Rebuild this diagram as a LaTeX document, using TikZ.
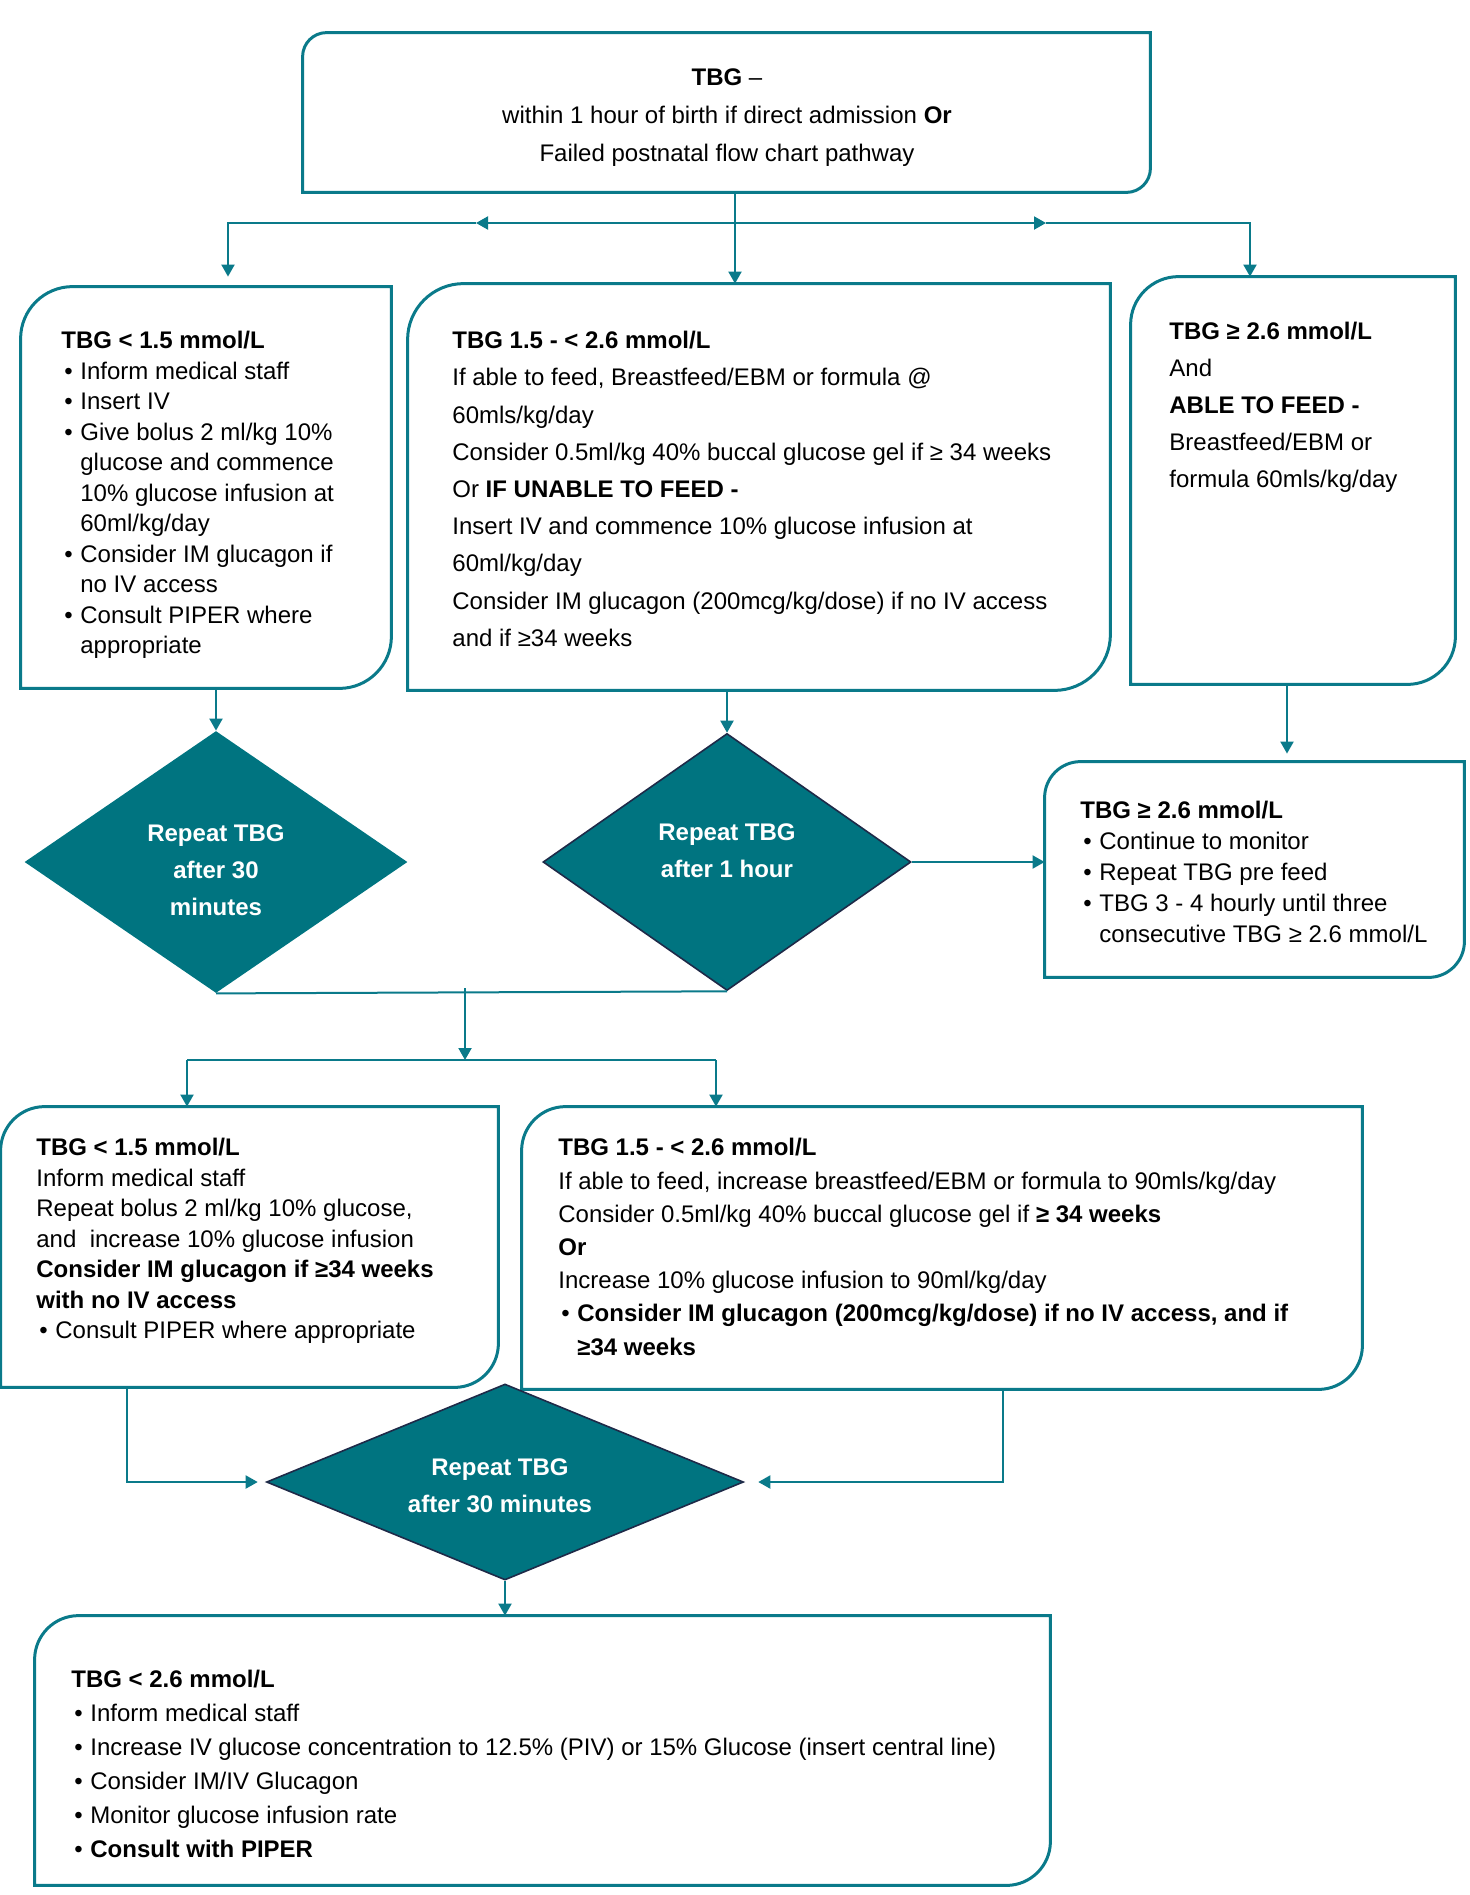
\documentclass[tikz,border=0pt]{standalone}
\usepackage{fontspec}
\setmainfont{Liberation Sans}
\usepackage{tikz}
\usetikzlibrary{shapes.geometric,arrows.meta,fit}
\definecolor{tealline}{RGB}{10,122,138}
\definecolor{tealfill}{RGB}{0,116,128}
\definecolor{navyline}{RGB}{30,42,72}
\newcommand\bitem{\makebox[9.5pt][l]{\hspace{1.5pt}\textbullet}}
\newcommand\bgap{\hspace*{9.5pt}}
\newcommand\roundbox[2]{%
  \draw[boxline] (#1.south west) -- ([yshift=-#2]#1.north west)
    arc[start angle=180, end angle=90, radius=#2] -- (#1.north east)
    -- ([yshift=#2]#1.south east)
    arc[start angle=0, end angle=-90, radius=#2] -- cycle;}

\begin{document}
\begin{tikzpicture}[x=0.5pt, y=-0.5pt,
        area/.style = {inner sep=0pt, draw=none},
        boxline/.style = {draw=tealline, line width=1.5pt},
        line/.style = {draw=tealline, line width=1pt},
        arr/.style = {line, -{Triangle[width=6.5pt,length=6pt]}},
        txt/.style = {anchor=north west, inner sep=0pt, align=left, font=\fontsize{12}{#1}\selectfont},
        decide/.style = {diamond, fill=tealfill, inner sep=0pt},
        dtxt/.style = {inner sep=0pt, text=white, align=center, font=\bfseries\fontsize{12}{18.5}\selectfont}
    ]
        \useasboundingbox (0,0) rectangle (1470,1895);

        \node[area, fit={(303,33) (1150,192)}] (top) {};
        \node[area, fit={(21,287) (391,688)}] (L1) {};
        \node[area, fit={(408,284) (1110,690)}] (M1) {};
        \node[area, fit={(1131,277) (1455,684)}] (R1) {};
        \node[area, fit={(1045,762) (1464,977)}] (R2) {};
        \node[area, fit={(1,1107) (498,1387)}] (L2) {};
        \node[area, fit={(522,1107) (1362,1389)}] (M2) {};
        \node[area, fit={(35,1616) (1050,1885)}] (B) {};
        \roundbox{top}{12pt}
        \roundbox{L1}{26pt}
        \roundbox{M1}{28pt}
        \roundbox{R1}{24pt}
        \roundbox{R2}{18pt}
        \roundbox{L2}{22pt}
        \roundbox{M2}{22pt}
        \roundbox{B}{22pt}

        \node[decide, minimum width=191.5pt, minimum height=131pt] (D1) at (216,862) {};
        \node[decide, draw=navyline, line width=0.8pt, minimum width=184pt, minimum height=128.5pt] (D2) at (727,862) {};
        \node[decide, draw=navyline, line width=0.8pt, minimum width=238.5pt, minimum height=98pt] (D3) at (505,1482) {};
        \node[dtxt] (D1txt) at (216,870) {Repeat TBG\\after 30\\minutes};
        \node[dtxt] (D2txt) at (727,851) {Repeat TBG\\after 1 hour};
        \node[dtxt] (D3txt) at (500,1486) {Repeat TBG\\after 30 minutes};

        \node[txt=19pt, anchor=north, align=center] (toptxt) at (727,68)
            {\textbf{TBG} –\\within 1 hour of birth if direct admission \textbf{Or}\\Failed postnatal flow chart pathway};
        \node[txt=15.25pt] (L1txt) at (61,331)
            {\textbf{TBG < 1.5 mmol/L}\\
             \bitem Inform medical staff\\
             \bitem Insert IV\\
             \bitem Give bolus 2 ml/kg 10\%\\
             \bgap glucose and commence\\
             \bgap 10\% glucose infusion at\\
             \bgap 60ml/kg/day\\
             \bitem Consider IM glucagon if\\
             \bgap no IV access\\
             \bitem Consult PIPER where\\
             \bgap appropriate};
        \node[txt=18.6pt] (M1txt) at (452,331)
            {\textbf{TBG 1.5 - < 2.6 mmol/L}\\
             If able to feed, Breastfeed/EBM or formula @\\
             60mls/kg/day\\
             Consider 0.5ml/kg 40\% buccal glucose gel if ≥ 34 weeks\\
             Or \textbf{IF UNABLE TO FEED -}\\
             Insert IV and commence 10\% glucose infusion at\\
             60ml/kg/day\\
             Consider IM glucagon (200mcg/kg/dose) if no IV access\\
             and if ≥34 weeks};
        \node[txt=18.5pt] (R1txt) at (1169,322)
            {\textbf{TBG ≥ 2.6 mmol/L}\\
             And\\
             \textbf{ABLE TO FEED -}\\
             Breastfeed/EBM or\\
             formula 60mls/kg/day};
        \node[txt=15.5pt] (R2txt) at (1080,801)
            {\textbf{TBG ≥ 2.6 mmol/L}\\
             \bitem Continue to monitor\\
             \bitem Repeat TBG pre feed\\
             \bitem TBG 3 - 4 hourly until three\\
             \bgap consecutive TBG ≥ 2.6 mmol/L};
        \node[txt=15.25pt] (L2txt) at (36,1138)
            {\textbf{TBG < 1.5 mmol/L}\\
             Inform medical staff\\
             Repeat bolus 2 ml/kg 10\% glucose,\\
             and\ \ increase 10\% glucose infusion\\
             \textbf{Consider IM glucagon if ≥34 weeks}\\
             \textbf{with no IV access}\\
             \bitem Consult PIPER where appropriate};
        \node[txt=16.6pt] (M2txt) at (558,1138)
            {\textbf{TBG 1.5 - < 2.6 mmol/L}\\
             If able to feed, increase breastfeed/EBM or formula to 90mls/kg/day\\
             Consider 0.5ml/kg 40\% buccal glucose gel if \textbf{≥ 34 weeks}\\
             \textbf{Or}\\
             Increase 10\% glucose infusion to 90ml/kg/day\\
             \bitem \textbf{Consider IM glucagon (200mcg/kg/dose) if no IV access, and if}\\
             \bgap \textbf{≥34 weeks}};
        \node[txt=17pt] (Btxt) at (71,1670)
            {\textbf{TBG < 2.6 mmol/L}\\
             \bitem Inform medical staff\\
             \bitem Increase IV glucose concentration to 12.5\% (PIV) or 15\% Glucose (insert central line)\\
             \bitem Consider IM/IV Glucagon\\
             \bitem Monitor glucose infusion rate\\
             \bitem \textbf{Consult with PIPER}};

        \coordinate (sp) at (735,223);
        \coordinate (spL) at (228,223);
        \coordinate (spR) at (1250,223);
        \coordinate (midL) at (476,223);
        \coordinate (midR) at (1046,223);
        \draw[line] (top.south -| sp) -- (sp);
        \draw[arr] (sp) -- (M1.north -| sp);
        \draw[arr] (sp) -- (midL);
        \draw[arr, shorten >=5pt] (midL) -| (L1.north -| spL);
        \draw[arr] (sp) -- (midR);
        \draw[arr] (midR) -| (R1.north -| spR);

        \draw[arr] (L1.south -| D1.north) -- (D1.north);
        \draw[arr] (M1.south -| D2.north) -- (D2.north);
        \draw[arr, shorten >=4pt] (R1.south -| 1287,0) -- (R2.north -| 1287,0);
        \draw[arr] (D2.east) -- (D2.east -| R2.west);

        \coordinate (join) at (465,988);
        \coordinate (split) at (465,1060);
        \coordinate (splitL) at (187,1060);
        \coordinate (splitR) at (716,1060);
        \draw[line] (D1.south) -- (D2.south);
        \draw[arr] (join) -- (split);
        \draw[line] (splitL) -- (splitR);
        \draw[arr] (splitL) -- (L2.north -| splitL);
        \draw[arr] (splitR) -- (M2.north -| splitR);

        \coordinate (backL) at (127,1484);
        \coordinate (backR) at (1003,1484);
        \draw[arr, shorten >=4pt] (L2.south -| backL) |- (D3.west);
        \draw[arr, shorten >=7pt] (M2.south -| backR) |- (D3.east);
        \draw[arr] (D3.south) -- (B.north -| D3.south);
    \end{tikzpicture}
\end{document}
